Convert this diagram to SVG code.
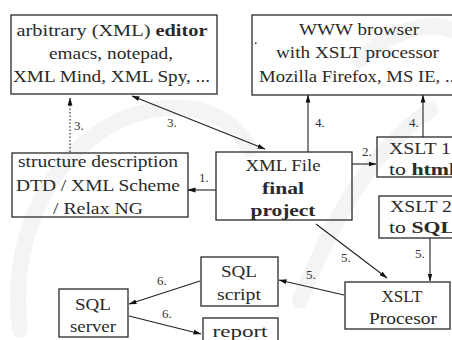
<svg xmlns="http://www.w3.org/2000/svg" width="452" height="340" viewBox="0 0 452 340">
<defs>
<marker id="ah" markerWidth="8" markerHeight="6" refX="7.5" refY="3" orient="auto-start-reverse" markerUnits="userSpaceOnUse">
<path d="M0,0.6 L8,3 L0,5.4 Z" fill="#111"/>
</marker>
</defs>
<style>
.box{fill:none;stroke:#2a2a2a;stroke-width:1.3}
text{font-family:"Times New Roman",Tinos,"Liberation Serif","DejaVu Serif",serif}
.t{font-size:17px;fill:#2a2a2a}
.c{text-anchor:middle}
.b{font-weight:bold}
.lab{font-size:13px;fill:#333}
.ln{stroke:#222;stroke-width:1.1;fill:none}
.wm{fill:none;stroke:#f4f4f4;stroke-width:16;stroke-linecap:round}
</style>
<rect width="452" height="340" fill="#fff"/>
<g id="watermark">
<path class="wm" d="M20,330 C10,250 40,160 120,120 C180,95 230,110 250,150"/>
<path class="wm" d="M300,300 C330,230 360,160 430,110"/>
<path class="wm" d="M360,60 C390,30 430,20 452,30"/>
</g>
<g id="connectors">
<path class="ln" d="M70,152 L70,98" stroke-dasharray="1.5,2" marker-end="url(#ah)"/>
<path class="ln" d="M132,96 L265,149" marker-start="url(#ah)" marker-end="url(#ah)"/>
<path class="ln" d="M216,190 L188,190" marker-end="url(#ah)"/>
<path class="ln" d="M352,164 L376,164" marker-end="url(#ah)"/>
<path class="ln" d="M308,152 L308,95" marker-end="url(#ah)"/>
<path class="ln" d="M423,137 L423,95" stroke="#555" marker-end="url(#ah)"/>
<path class="ln" d="M316,224 L387,278" marker-end="url(#ah)"/>
<path class="ln" d="M430,238 L430,281" marker-end="url(#ah)"/>
<path class="ln" d="M344,295 L279,280" marker-end="url(#ah)"/>
<path class="ln" d="M200,281 L129,304" marker-end="url(#ah)"/>
<path class="ln" d="M129,316 L201,334" marker-end="url(#ah)"/>
<text class="lab" x="74" y="130">3.</text>
<text class="lab" x="167" y="127">3.</text>
<text class="lab" x="199" y="182">1.</text>
<text class="lab" x="362" y="156">2.</text>
<text class="lab" x="315" y="127">4.</text>
<text class="lab" x="409" y="127">4.</text>
<text class="lab" x="341" y="262">5.</text>
<text class="lab" x="415" y="258">5.</text>
<text class="lab" x="306" y="279">5.</text>
<text class="lab" x="157" y="285">6.</text>
<text class="lab" x="162" y="318">6.</text>
</g>
<g id="editor">
<rect class="box" x="11" y="15" width="206" height="79"/>
<text class="t c" x="112" y="36" textLength="191" lengthAdjust="spacingAndGlyphs">arbitrary (XML) <tspan class="b">editor</tspan></text>
<text class="t c" x="111" y="59" textLength="124" lengthAdjust="spacingAndGlyphs">emacs, notepad,</text>
<text class="t c" x="111.5" y="82" textLength="197" lengthAdjust="spacingAndGlyphs">XML Mind, XML Spy, ...</text>
</g>
<g id="browser">
<rect class="box" x="252" y="15" width="210" height="80"/>
<rect x="255" y="42.5" width="1.5" height="1.5" fill="#222"/>
<text class="t c" x="359" y="35" textLength="120" lengthAdjust="spacingAndGlyphs">WWW browser</text>
<text class="t c" x="357.5" y="58" textLength="163" lengthAdjust="spacingAndGlyphs">with XSLT processor</text>
<text class="t" x="259" y="82" textLength="200" lengthAdjust="spacingAndGlyphs">Mozilla Firefox, MS IE, ...</text>
</g>
<g id="structure">
<rect class="box" x="12" y="153" width="176" height="64"/>
<text class="t c" x="98" y="167" textLength="160" lengthAdjust="spacingAndGlyphs">structure description</text>
<text class="t c" x="98" y="191" textLength="164" lengthAdjust="spacingAndGlyphs">DTD / XML Scheme</text>
<text class="t c" x="98" y="214" textLength="90" lengthAdjust="spacingAndGlyphs">/ Relax NG</text>
</g>
<g id="xmlfile">
<rect class="box" x="216" y="152" width="136" height="68"/>
<text class="t c" x="283" y="171" textLength="75" lengthAdjust="spacingAndGlyphs">XML File</text>
<text class="t c b" x="283" y="194" textLength="42" lengthAdjust="spacingAndGlyphs">final</text>
<text class="t c b" x="283" y="216" textLength="65" lengthAdjust="spacingAndGlyphs">project</text>
</g>
<g id="xslt1">
<rect class="box" x="377" y="137" width="85" height="40"/>
<text class="t" x="389" y="154" textLength="62" lengthAdjust="spacingAndGlyphs">XSLT 1</text>
<text class="t" x="389" y="175" textLength="66" lengthAdjust="spacingAndGlyphs">to <tspan class="b">html</tspan></text>
</g>
<g id="xslt2">
<rect class="box" x="379" y="196" width="85" height="42"/>
<text class="t" x="390" y="212" textLength="62" lengthAdjust="spacingAndGlyphs">XSLT 2</text>
<text class="t" x="389" y="233" textLength="66" lengthAdjust="spacingAndGlyphs">to <tspan class="b">SQL</tspan></text>
</g>
<g id="processor">
<rect class="box" x="345" y="282" width="105" height="47"/>
<text class="t c" x="402" y="302" textLength="41" lengthAdjust="spacingAndGlyphs">XSLT</text>
<text class="t c" x="403" y="324" textLength="68" lengthAdjust="spacingAndGlyphs">Procesor</text>
</g>
<g id="sqlscript">
<rect class="box" x="201" y="257" width="77" height="49"/>
<text class="t c" x="239" y="277" textLength="36" lengthAdjust="spacingAndGlyphs">SQL</text>
<text class="t c" x="239" y="300" textLength="44" lengthAdjust="spacingAndGlyphs">script</text>
</g>
<g id="report">
<rect class="box" x="203" y="318" width="75" height="30"/>
<text class="t c" x="240" y="337" textLength="55" lengthAdjust="spacingAndGlyphs">report</text>
</g>
<g id="sqlserver">
<rect class="box" x="59" y="289" width="69" height="48"/>
<text class="t c" x="93" y="310" textLength="36" lengthAdjust="spacingAndGlyphs">SQL</text>
<text class="t c" x="93" y="332" textLength="46" lengthAdjust="spacingAndGlyphs">server</text>
</g>
</svg>
